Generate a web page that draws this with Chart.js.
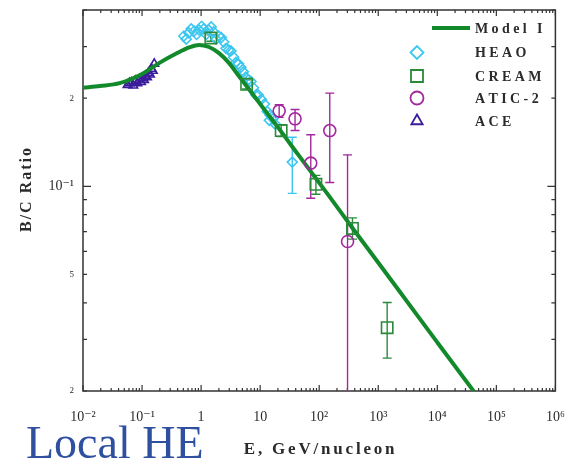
<!DOCTYPE html>
<html>
<head>
<meta charset="utf-8">
<script src="https://cdn.jsdelivr.net/npm/chart.js@4/dist/chart.umd.min.js"></script>
<style>
  html, body { margin: 0; padding: 0; background: #fff; overflow: hidden; }
  #wrap { position: relative; width: 565px; height: 459px; }
  #c { position: absolute; left: 0; top: 0; }
  #tag {
    position: absolute; left: 26px; top: 420px;
    font: 46px "Liberation Serif", "DejaVu Serif", serif;
    line-height: 46px; color: #2f4f9f; white-space: nowrap;
  }
</style>
</head>
<body>
<div id="wrap">
  <canvas id="c" width="565" height="459"></canvas>
  <div id="tag">Local HE</div>
</div>
<script>
// B/C ratio versus kinetic energy per nucleon: propagation model and measurements

// Model I curve
const modelE  = [0.01, 0.0193, 0.0417, 0.1, 0.197, 0.38, 0.628, 0.925, 1.36, 2.01, 2.96, 4.36, 6.42, 9.45, 13.9, 20.5, 44.4, 142, 345, 2128, 10000, 41900, 60000];
const modelBC = [0.217, 0.220, 0.225, 0.242, 0.264, 0.284, 0.298, 0.304, 0.299, 0.285, 0.264, 0.238, 0.215, 0.194, 0.175, 0.158, 0.128, 0.0935, 0.0732, 0.0447, 0.0293, 0.0199, 0.0181];

// HEAO-3
const heaoE  = [0.51, 0.56, 0.62, 0.68, 0.76, 0.84, 0.92, 1.02, 1.11, 1.22, 1.34, 1.48, 1.63, 1.8, 1.99, 2.2, 2.42, 2.65, 2.93, 3.2, 3.55, 3.9, 4.3, 4.7, 5.2, 5.7, 6.3, 7.0, 7.7, 8.5, 9.3, 10.5, 11.8, 13.2, 14.3, 14.8, 16.5, 18, 35];
const heaoBC = [0.326, 0.318, 0.334, 0.345, 0.339, 0.33, 0.342, 0.352, 0.345, 0.33, 0.342, 0.35, 0.337, 0.318, 0.326, 0.322, 0.311, 0.296, 0.292, 0.29, 0.276, 0.265, 0.262, 0.255, 0.246, 0.236, 0.231, 0.228, 0.217, 0.205, 0.205, 0.198, 0.191, 0.18, 0.168, 0.175, 0.17, 0.163, 0.121];
const heaoErrE  = [35];
const heaoErrLo = [0.0946];
const heaoErrHi = [0.147];

// CREAM
const creamE  = [1.46, 5.9, 22.7, 88, 366, 1416];
const creamBC = [0.321, 0.223, 0.155, 0.1016, 0.0718, 0.0329];
const creamLo = [0.313, 0.215, 0.148, 0.094, 0.066, 0.0259];
const creamHi = [0.329, 0.231, 0.162, 0.109, 0.078, 0.0401];

// ATIC-2
const aticE  = [21, 39, 72, 151, 302];
const aticBC = [0.181, 0.170, 0.120, 0.155, 0.0648];
const aticLo = [0.172, 0.155, 0.091, 0.103, 0.01];
const aticHi = [0.190, 0.183, 0.150, 0.208, 0.128];

// ACE
const aceE  = [0.057, 0.061, 0.066, 0.071, 0.077, 0.083, 0.090, 0.096, 0.102, 0.108, 0.114, 0.121, 0.128, 0.136, 0.144, 0.152, 0.161];
const aceBC = [0.222, 0.225, 0.226, 0.221, 0.229, 0.225, 0.231, 0.227, 0.234, 0.231, 0.238, 0.236, 0.244, 0.241, 0.252, 0.248, 0.262];

// Axis ticks
const xTickValues = [1e-2, 1e-1, 1, 10, 1e2, 1e3, 1e4, 1e5, 1e6];
const xTickLabels = ['10⁻²', '10⁻¹', '1', '10', '10²', '10³', '10⁴', '10⁵', '10⁶'];
const yTickValues = [0.02, 0.05, 0.1, 0.2];
const yTickLabels = ['2', '5', '10⁻¹', '2'];

const legendLabels = ['Model I', 'HEAO', 'CREAM', 'ATIC-2', 'ACE'];
const xTitle = 'E, GeV/nucleon';
const yTitle = 'B/C Ratio';

const SERIF = '"Liberation Serif", "DejaVu Serif", serif';
const INK = '#2b2b2b';
const C_MODEL = '#12892a';
const C_HEAO = '#3cc6f0';
const C_CREAM = '#2b8a3a';
const C_ATIC = '#a3279e';
const C_ACE = '#3b1d9b';

const pts = (E, V) => E.map((e, i) => ({ x: e, y: V[i] }));

function markers(label, E, V, style, color, radius, order) {
  return {
    label, data: pts(E, V), showLine: false,
    pointStyle: style, pointRadius: radius, pointHoverRadius: radius,
    pointBorderColor: color, pointBackgroundColor: 'rgba(0,0,0,0)',
    pointBorderWidth: 1.6, order
  };
}

const errorSets = [
  { E: heaoErrE, lo: heaoErrLo, hi: heaoErrHi, color: C_HEAO },
  { E: creamE, lo: creamLo, hi: creamHi, color: C_CREAM },
  { E: aticE, lo: aticLo, hi: aticHi, color: C_ATIC }
];

// draws text one glyph at a time with extra tracking
function trackedText(ctx, text, x, y, spacing, align) {
  let w = 0;
  for (const ch of text) w += ctx.measureText(ch).width + spacing;
  w -= spacing;
  let cx = align === 'center' ? x - w / 2 : x;
  ctx.textAlign = 'left';
  for (const ch of text) {
    ctx.fillText(ch, cx, y);
    cx += ctx.measureText(ch).width + spacing;
  }
}

const framePlugin = {
  id: 'frameTicks',
  beforeDatasetsDraw(chart) {
    const { ctx, chartArea: a, scales: { x, y } } = chart;
    ctx.save();
    // plot frame
    ctx.strokeStyle = '#333';
    ctx.lineWidth = 1.5;
    ctx.strokeRect(a.left, a.top, a.right - a.left, a.bottom - a.top);
    // inward tick marks
    ctx.lineWidth = 1.2;
    ctx.beginPath();
    for (let d = -2; d <= 6; d++) {
      for (let k = 1; k <= 9; k++) {
        const v = k * Math.pow(10, d);
        if (v < 0.01 || v > 1e6) continue;
        const px = x.getPixelForValue(v);
        const len = k === 1 ? 6 : 3;
        ctx.moveTo(px, a.bottom); ctx.lineTo(px, a.bottom - len);
        ctx.moveTo(px, a.top); ctx.lineTo(px, a.top + len);
      }
    }
    for (let d = -2; d <= -1; d++) {
      for (let k = 1; k <= 9; k++) {
        const v = k * Math.pow(10, d);
        if (v < 0.02 || v > 0.4) continue;
        const py = y.getPixelForValue(v);
        const len = (k === 1) ? 8 : 4;
        ctx.moveTo(a.left, py); ctx.lineTo(a.left + len, py);
        ctx.moveTo(a.right, py); ctx.lineTo(a.right - len, py);
      }
    }
    ctx.stroke();

    // error bars
    ctx.beginPath();
    ctx.rect(a.left, a.top, a.right - a.left, a.bottom - a.top);
    ctx.clip();
    ctx.lineWidth = 1.4;
    for (const s of errorSets) {
      ctx.strokeStyle = s.color;
      ctx.beginPath();
      s.E.forEach((e, i) => {
        const px = x.getPixelForValue(e);
        const p1 = y.getPixelForValue(s.lo[i]);
        const p2 = y.getPixelForValue(s.hi[i]);
        ctx.moveTo(px, p1); ctx.lineTo(px, p2);
        ctx.moveTo(px - 4.5, p1); ctx.lineTo(px + 4.5, p1);
        ctx.moveTo(px - 4.5, p2); ctx.lineTo(px + 4.5, p2);
      });
      ctx.stroke();
    }
    ctx.restore();
  },
  afterDraw(chart) {
    const { ctx, chartArea: a } = chart;
    ctx.save();
    ctx.fillStyle = INK;
    ctx.textBaseline = 'alphabetic';
    // x title
    ctx.font = 'bold 17px ' + SERIF;
    trackedText(ctx, xTitle, (a.left + a.right) / 2, 454, 2.8, 'center');
    // y title
    ctx.save();
    ctx.translate(31, 190);
    ctx.rotate(-Math.PI / 2);
    ctx.font = 'bold 16px ' + SERIF;
    trackedText(ctx, yTitle, 0, 0, 2, 'center');
    ctx.restore();

    // legend
    const rows = [28, 52.5, 76, 98, 121];
    const mk = [null,
      { style: 'rectRot', r: 6.5, color: C_HEAO },
      { style: 'rect', r: 8.5, color: C_CREAM },
      { style: 'circle', r: 6.5, color: C_ATIC },
      { style: 'triangle', r: 6.5, color: C_ACE }];
    ctx.strokeStyle = C_MODEL;
    ctx.lineWidth = 4;
    ctx.beginPath();
    ctx.moveTo(432, rows[0]); ctx.lineTo(470, rows[0]);
    ctx.stroke();
    ctx.lineWidth = 1.8;
    for (let i = 1; i < mk.length; i++) {
      ctx.strokeStyle = mk[i].color;
      ctx.fillStyle = 'rgba(0,0,0,0)';
      Chart.helpers.drawPoint(ctx, { pointStyle: mk[i].style, radius: mk[i].r, rotation: 0, borderWidth: 1.8 }, 417, rows[i]);
    }
    ctx.fillStyle = INK;
    ctx.font = 'bold 14px ' + SERIF;
    ctx.textBaseline = 'middle';
    legendLabels.forEach((t, i) => trackedText(ctx, t, 475, rows[i] + 1, 3.4, 'left'));
    ctx.restore();
  }
};

const chart = new Chart(document.getElementById('c'), {
  type: 'scatter',
  data: {
    datasets: [
      markers('HEAO', heaoE, heaoBC, 'rectRot', C_HEAO, 5, 5),
      markers('ACE', aceE, aceBC, 'triangle', C_ACE, 5, 4),
      {
        label: 'Model I', data: pts(modelE, modelBC), showLine: true,
        borderColor: C_MODEL, borderWidth: 4, pointRadius: 0,
        cubicInterpolationMode: 'monotone', fill: false, order: 3
      },
      markers('CREAM', creamE, creamBC, 'rect', C_CREAM, 8, 2),
      markers('ATIC-2', aticE, aticBC, 'circle', C_ATIC, 6, 1)
    ]
  },
  options: {
    responsive: false,
    animation: false,
    devicePixelRatio: 1,
    layout: { padding: { top: 10, right: 6, left: 0, bottom: 0 } },
    plugins: { legend: { display: false }, tooltip: { enabled: false } },
    scales: {
      x: {
        type: 'logarithmic', min: 0.01, max: 1e6, bounds: 'data',
        grid: { display: false, drawTicks: false },
        border: { display: false },
        afterBuildTicks: s => { s.ticks = xTickValues.map(v => ({ value: v })); },
        afterFit: s => { s.height = 68; s.paddingLeft = 0; s.paddingRight = 0; },
        ticks: {
          autoSkip: false, maxRotation: 0, minRotation: 0, padding: 18,
          color: INK, font: { family: SERIF, size: 14 },
          callback: (v, i) => xTickLabels[i]
        }
      },
      y: {
        type: 'logarithmic', min: 0.02, max: 0.4, bounds: 'data',
        grid: { display: false, drawTicks: false },
        border: { display: false },
        afterBuildTicks: s => { s.ticks = yTickValues.map(v => ({ value: v })); },
        afterFit: s => { s.width = 83; s.paddingTop = 0; s.paddingBottom = 0; },
        ticks: {
          autoSkip: false, padding: 9, color: INK,
          font: c => ({ family: SERIF, size: (c.tick && c.tick.value === 0.1) ? 14 : 9 }),
          callback: (v, i) => yTickLabels[i]
        }
      }
    }
  },
  plugins: [framePlugin]
});
</script>
</body>
</html>
